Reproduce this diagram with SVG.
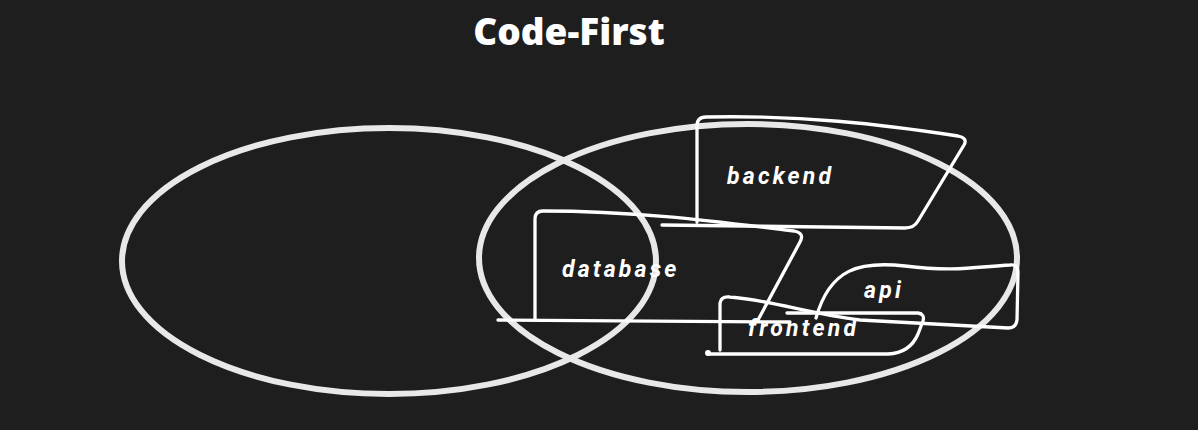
<svg xmlns="http://www.w3.org/2000/svg" width="1198" height="430" viewBox="0 0 1198 430">
<style>
.ell{fill:none;stroke:#e8e8e8;stroke-width:6}
.sk{fill:none;stroke:#ffffff;stroke-width:3.3;stroke-linecap:round;stroke-linejoin:round}
.lbl{font-family:Roboto,"Liberation Sans",sans-serif;font-style:italic;font-weight:700;font-size:23px;letter-spacing:3.2px;fill:#ffffff}
.title{font-family:"Open Sans","Liberation Sans",sans-serif;font-weight:800;font-size:37px;fill:#ffffff}
</style>
<rect width="1198" height="430" fill="#1e1e1e"/>
<text class="title" x="569" y="45" text-anchor="middle">Code-First</text>
<g id="circle-left"><ellipse class="ell" cx="389" cy="261" rx="267" ry="133"/></g>
<g id="circle-right"><ellipse class="ell" cx="748" cy="258" rx="269" ry="134"/></g>
<g id="connectors">
<path class="sk" d="M498,320 L790,322"/>
</g>
<g id="backend">
<path class="sk" d="M697,222 L697,126 Q697,117 706,117 C800,115 880,124 958,136 Q968,138 964,145 L918,221 Q914,228 905,228 L662,225"/>
<text class="lbl" x="727" y="184">backend</text>
</g>
<g id="database">
<path class="sk" d="M535,320 L535,219 Q535,211 543,211 C640,211 720,222 794,231 Q805,233 800,242 L758,320"/>
<text class="lbl" x="562" y="277">database</text>
</g>
<g id="api">
<path class="sk" d="M720,350 L720,303 Q721,296 730,297 C770,300 810,314 860,320 L1008,328 Q1016,328 1017,320 L1018,272 Q1018,264 1010,265 C975,267 955,272 905,266 C860,261 830,268 816,318"/>
<text class="lbl" x="864" y="298">api</text>
</g>
<g id="frontend">
<path class="sk" d="M787,313 L918,313 Q925,314 923,321 L918,334 Q910,353 888,354 L708,354"/>
<circle cx="708" cy="353" r="3" fill="#ffffff"/>
<text class="lbl" x="748" y="336">frontend</text>
</g>
</svg>
